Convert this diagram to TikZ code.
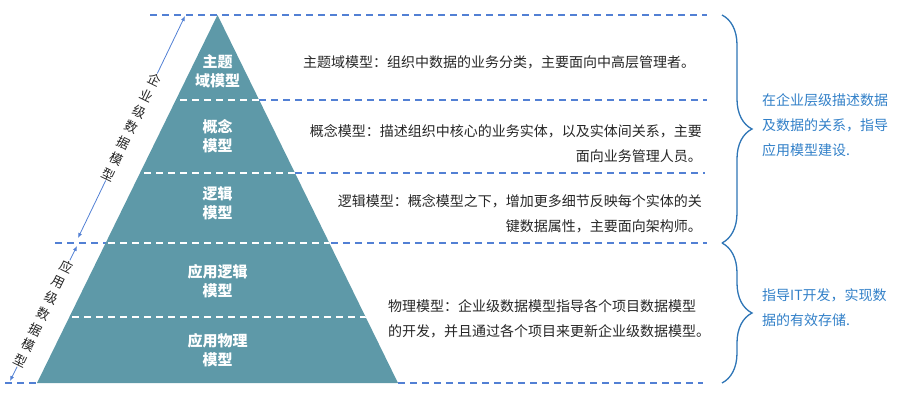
\documentclass[tikz,border=0pt]{standalone}
\usepackage{fontspec}
\setmainfont{Noto Sans CJK SC}
\usepackage{xcolor}
\usetikzlibrary{decorations.pathreplacing,calc,arrows.meta}
\definecolor{pyrteal}{RGB}{94,153,168}
\definecolor{dashblue}{RGB}{82,128,212}
\definecolor{braceblue}{RGB}{46,117,182}
\definecolor{notetext}{RGB}{50,128,200}
\pgfkeys{tikz/layerdash/.style={dash pattern=on 7pt off 5pt,line width=1.4pt}}
\pgfkeys{tikz/outerline/.style={layerdash,draw=dashblue}}
\pgfkeys{tikz/innerline/.style={layerdash,draw=white}}
\pgfkeys{tikz/pyrlabel/.style={text=white,font=\bfseries\fontsize{15}{19}\selectfont,align=center,inner sep=0pt}}
\pgfkeys{tikz/desc/.style={text=black!85,font=\fontsize{14}{25}\selectfont,inner sep=0pt}}
\pgfkeys{tikz/note/.style={text=notetext,font=\fontsize{14}{25}\selectfont,align=left,anchor=west,inner sep=0pt}}
\pgfkeys{tikz/mybrace/.style={decorate,decoration={brace,amplitude=30pt},draw=braceblue,line width=1.3pt}}
\pgfkeys{tikz/levelarrow/.style={draw=dashblue,line width=0.8pt,{Latex[length=5pt,width=4pt]}-{Latex[length=5pt,width=4pt]}}}
\pgfkeys{tikz/levellabel/.style={fill=white,text=black!85,font=\fontsize{13}{17.5}\selectfont,align=center,rotate=-26,inner sep=1pt}}

\begin{document}
\begin{tikzpicture}[x={(1pt,0)},y={(0,-1pt)}]
    \useasboundingbox (0,0) rectangle (900,401);
    \coordinate (apex) at (217.5,15);
    \coordinate (bl) at (37,383);
    \coordinate (br) at (398,383);
    % blue layer lines, pyramid goes over them
    \foreach \y/\xa/\xb in {15/150/707, 100/259/707, 173/295/705, 243/55/707, 383/5/37, 383/398/703}
        \draw[outerline] (\xa,\y) -- (\xb,\y);
    \fill[pyrteal] (apex) -- (br) -- (bl) -- cycle;
    \begin{scope}
        \clip (apex) -- (br) -- (bl) -- cycle;
        \foreach \y in {100,173,243,317}
            \draw[innerline] (0,\y) -- (450,\y);
    \end{scope}
    \node[pyrlabel] (topic) at (217.5,71) {主题\\域模型};
    \node[pyrlabel] (concept) at (217.5,136) {概念\\模型};
    \node[pyrlabel] (logic) at (217.5,203) {逻辑\\模型};
    \node[pyrlabel] (applogic) at (217.5,281) {应用逻辑\\模型};
    \node[pyrlabel] (appphys) at (217.5,350) {应用物理\\模型};
    % level arrows on the left
    \coordinate (enttop) at (185,16);
    \coordinate (entbot) at (78,238);
    \coordinate (apptop) at (77,246);
    \coordinate (appbot) at (10,381);
    \draw[levelarrow] (enttop) -- node[levellabel] (entlabel) {企\\业\\级\\数\\据\\模\\型} (entbot);
    \draw[levelarrow] (apptop) -- node[levellabel] (applabel) {应\\用\\级\\数\\据\\模\\型} (appbot);
    % descriptions
    \node[desc,anchor=west] (topicdesc) at (303,62) {主题域模型：组织中数据的业务分类，主要面向中高层管理者。};
    \node[desc,anchor=east,align=right] (conceptdesc) at (702,143.5) {概念模型：描述组织中核心的业务实体，以及实体间关系，主要\\面向业务管理人员。};
    \node[desc,anchor=east,align=right] (logicdesc) at (702,214) {逻辑模型：概念模型之下，增加更多细节反映每个实体的关\\键数据属性，主要面向架构师。};
    \node[desc,anchor=west,align=left] (physdesc) at (388,319) {物理模型：企业级数据模型指导各个项目数据模型\\的开发，并且通过各个项目来更新企业级数据模型。};
    % braces and notes
    \coordinate (entbracetop) at (722,15);
    \coordinate (entbracebot) at (722,243);
    \coordinate (appbracebot) at (722,383);
    \draw[mybrace] (entbracetop) -- (entbracebot);
    \draw[mybrace] (entbracebot) -- (appbracebot);
    \node[note] (entnote) at (762,125) {在企业层级描述数据\\及数据的关系，指导\\应用模型建设.};
    \node[note] (appnote) at (762,307.5) {指导IT开发，实现数\\据的有效存储.};
\end{tikzpicture}
\end{document}
